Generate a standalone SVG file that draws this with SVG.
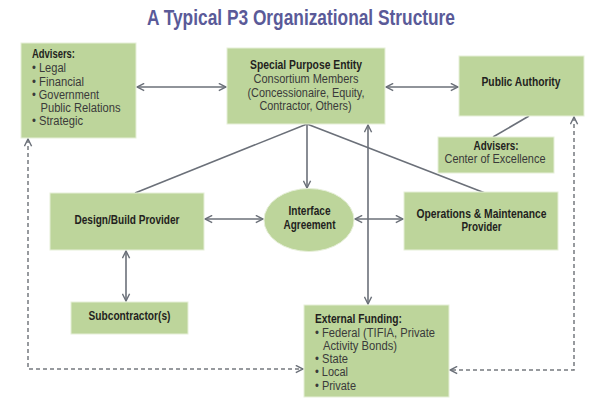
<svg xmlns="http://www.w3.org/2000/svg" width="600" height="400" viewBox="0 0 600 400">
<defs>
<style>
.box{fill:#bdd59b;stroke:#e6efd8;stroke-width:1}
.t{font-family:"Liberation Sans",Arial,sans-serif;font-size:12.3px;fill:#231f20}
.b{font-weight:bold}
.n{fill:#3a3a3a}
.c{text-anchor:middle}
.title{font-family:"Liberation Sans",Arial,sans-serif;font-size:22px;font-weight:bold;fill:#5a5a98;text-anchor:middle}
.ln{fill:none;stroke:#6b7079;stroke-width:1.6}
.ds{fill:none;stroke:#75797f;stroke-width:1.5;stroke-dasharray:4 3}
</style>
<marker id="ah" viewBox="0 0 10 10" refX="9" refY="5" markerWidth="9" markerHeight="9" markerUnits="userSpaceOnUse" orient="auto-start-reverse">
<path d="M1,1 L9,5 L1,9" fill="none" stroke="#6b7079" stroke-width="1.6"/>
</marker>
</defs>
<rect width="600" height="400" fill="#ffffff"/>
<text class="title" x="301" y="25" textLength="308" lengthAdjust="spacingAndGlyphs">A Typical P3 Organizational Structure</text>

<g id="connectors">
<line class="ln" x1="137" y1="87" x2="226" y2="87" marker-start="url(#ah)" marker-end="url(#ah)"/>
<line class="ln" x1="386" y1="87" x2="458" y2="87" marker-start="url(#ah)" marker-end="url(#ah)"/>
<line class="ln" x1="307" y1="124" x2="135" y2="193"/>
<line class="ln" x1="307" y1="124" x2="485" y2="193"/>
<line class="ln" x1="307" y1="124" x2="307" y2="188" marker-end="url(#ah)"/>
<line class="ln" x1="368" y1="125" x2="368" y2="304" marker-start="url(#ah)" marker-end="url(#ah)"/>
<line class="ln" x1="205" y1="219" x2="263" y2="219" marker-start="url(#ah)" marker-end="url(#ah)"/>
<line class="ln" x1="355" y1="219" x2="403" y2="219" marker-start="url(#ah)" marker-end="url(#ah)"/>
<line class="ln" x1="126" y1="251" x2="126" y2="301" marker-start="url(#ah)" marker-end="url(#ah)"/>
<line class="ln" x1="529" y1="116" x2="493" y2="137"/>
<path class="ds" d="M28,139 L28,369 L303,369" marker-start="url(#ah)" marker-end="url(#ah)"/>
<path class="ds" d="M574,117 L574,370 L450,370" marker-start="url(#ah)" marker-end="url(#ah)"/>
</g>

<g id="advisers">
<rect class="box" x="21" y="43" width="115" height="95"/>
<text class="t b" x="32" y="58" textLength="43" lengthAdjust="spacingAndGlyphs">Advisers:</text>
<text class="t n" x="32" y="72" textLength="34" lengthAdjust="spacingAndGlyphs">• Legal</text>
<text class="t n" x="32" y="85.5" textLength="52" lengthAdjust="spacingAndGlyphs">• Financial</text>
<text class="t n" x="32" y="98.5" textLength="67" lengthAdjust="spacingAndGlyphs">• Government</text>
<text class="t n" x="40.5" y="111.5" textLength="80" lengthAdjust="spacingAndGlyphs">Public Relations</text>
<text class="t n" x="32" y="125" textLength="51" lengthAdjust="spacingAndGlyphs">• Strategic</text>
</g>

<g id="spe">
<rect class="box" x="227" y="48" width="158" height="76"/>
<text class="t b c" x="306" y="69" textLength="112" lengthAdjust="spacingAndGlyphs">Special Purpose Entity</text>
<text class="t n c" x="306" y="83" textLength="105" lengthAdjust="spacingAndGlyphs">Consortium Members</text>
<text class="t n c" x="306" y="96.5" textLength="117" lengthAdjust="spacingAndGlyphs">(Concessionaire, Equity,</text>
<text class="t n c" x="305.5" y="109.5" textLength="92" lengthAdjust="spacingAndGlyphs">Contractor, Others)</text>
</g>

<g id="public-authority">
<rect class="box" x="459" y="56" width="125" height="60"/>
<text class="t b c" x="521" y="86" textLength="79" lengthAdjust="spacingAndGlyphs">Public Authority</text>
</g>

<g id="advisers-coe">
<rect class="box" x="438" y="137" width="116" height="36"/>
<text class="t b c" x="496" y="150" textLength="45" lengthAdjust="spacingAndGlyphs">Advisers:</text>
<text class="t n c" x="495" y="163" textLength="101" lengthAdjust="spacingAndGlyphs">Center of Excellence</text>
</g>

<g id="design-build">
<rect class="box" x="50" y="193" width="154" height="57"/>
<text class="t b c" x="127" y="224" textLength="105" lengthAdjust="spacingAndGlyphs">Design/Build Provider</text>
</g>

<g id="interface">
<ellipse class="box" cx="309" cy="220" rx="45" ry="31.5"/>
<text class="t b c" x="309.5" y="215" textLength="42" lengthAdjust="spacingAndGlyphs">Interface</text>
<text class="t b c" x="309.5" y="228.5" textLength="52" lengthAdjust="spacingAndGlyphs">Agreement</text>
</g>

<g id="om">
<rect class="box" x="404" y="192" width="154" height="58"/>
<text class="t b c" x="481.5" y="217.5" textLength="130" lengthAdjust="spacingAndGlyphs">Operations &amp; Maintenance</text>
<text class="t b c" x="481.5" y="231" textLength="40" lengthAdjust="spacingAndGlyphs">Provider</text>
</g>

<g id="subcontractor">
<rect class="box" x="71" y="302" width="117" height="32"/>
<text class="t b c" x="129.5" y="320" textLength="82" lengthAdjust="spacingAndGlyphs">Subcontractor(s)</text>
</g>

<g id="external-funding">
<rect class="box" x="304" y="305" width="145" height="92"/>
<text class="t b" x="315" y="323" textLength="87" lengthAdjust="spacingAndGlyphs">External Funding:</text>
<text class="t n" x="315" y="336.5" textLength="120" lengthAdjust="spacingAndGlyphs">• Federal (TIFIA, Private</text>
<text class="t n" x="323" y="350" textLength="74" lengthAdjust="spacingAndGlyphs">Activity Bonds)</text>
<text class="t n" x="315" y="363" textLength="33" lengthAdjust="spacingAndGlyphs">• State</text>
<text class="t n" x="315" y="376" textLength="33" lengthAdjust="spacingAndGlyphs">• Local</text>
<text class="t n" x="315" y="389.5" textLength="41" lengthAdjust="spacingAndGlyphs">• Private</text>
</g>
</svg>
